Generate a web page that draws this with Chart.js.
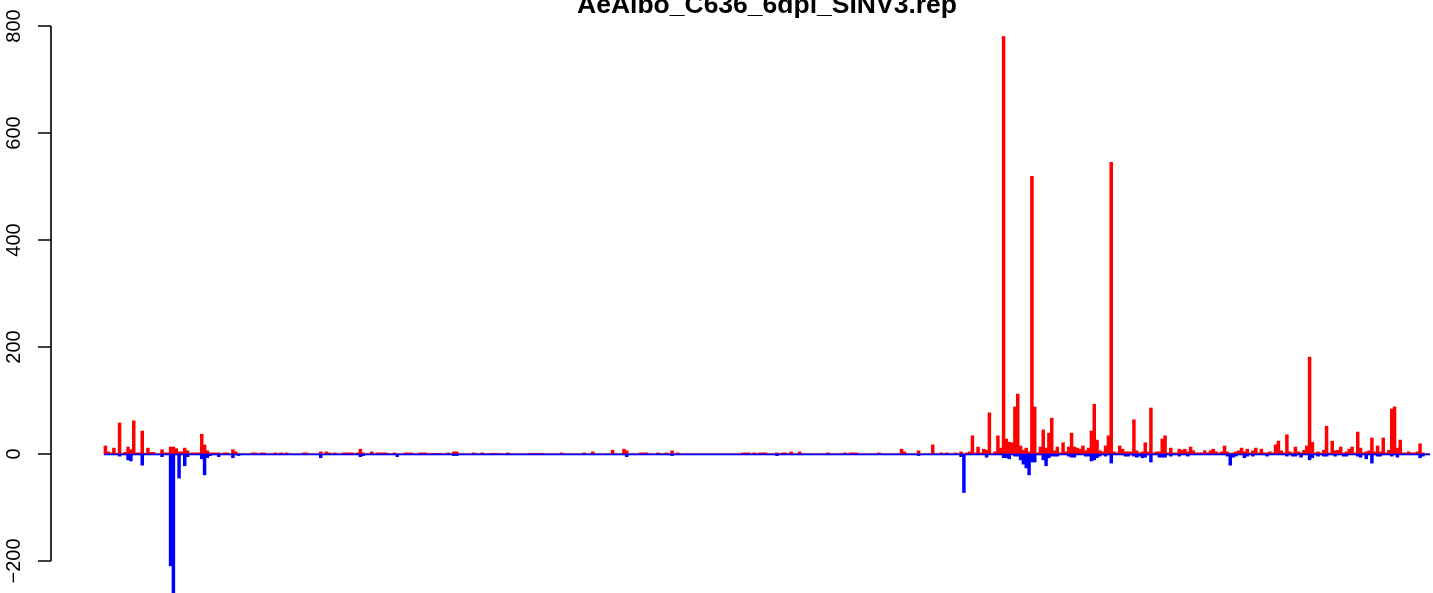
<!DOCTYPE html>
<html>
<head>
<meta charset="utf-8">
<script src="https://cdn.jsdelivr.net/npm/chart.js@4/dist/chart.umd.min.js"></script>
<style>
  html, body { margin: 0; padding: 0; background: #fff; overflow: hidden; }
  #wrap { position: absolute; left: 0; top: 0; width: 1433px; height: 640px; }
  canvas { display: block; }
</style>
</head>
<body>
<div id="wrap"><canvas id="repChart" width="1433" height="640"></canvas></div>
<script>
const chartTitle = "AeAlbo_C636_6dpi_SINV3.rep";

// y axis ticks (R style: axis only spans the tick range)
const yTicks = [-200, 0, 200, 400, 600, 800];
const yTickLabels = ["\u2212200", "0", "200", "400", "600", "800"];

// plus strand counts, one per bin (red)
const plusCounts = [
  15,4,2,11,1,58,1,3,13,8,62,2,2,43,1,11,3,3,0,0,
  8,2,2,13,13,10,4,4,11,6,1,2,2,2,37,17,6,2,2,2,
  2,0,2,2,0,8,4,1,0,0,0,0,2,2,0,2,2,0,0,0,
  2,0,2,0,2,0,0,0,0,0,2,2,0,0,0,0,4,0,4,2,
  0,2,0,0,2,2,2,2,0,2,9,2,0,0,4,0,2,2,2,2,
  0,0,2,0,0,0,2,2,2,0,0,2,2,2,0,1,1,1,1,0,
  0,2,0,4,4,0,0,0,0,0,2,0,0,2,0,0,1,1,1,1,
  0,0,2,0,0,0,0,0,0,0,1,1,1,1,1,0,0,0,0,0,
  0,2,0,0,0,0,0,0,0,2,0,0,4,0,0,0,0,0,0,7,
  0,0,0,9,6,0,0,0,0,2,2,2,0,0,0,2,0,0,2,0,
  6,0,2,0,0,0,0,0,0,0,0,0,0,0,0,0,0,0,0,0,
  0,0,0,0,0,2,2,2,0,2,0,2,2,2,0,0,0,2,0,2,
  2,0,4,0,0,4,0,0,0,0,0,0,0,0,0,2,0,0,0,0,
  0,2,0,2,2,2,0,0,0,0,0,0,0,2,0,0,0,0,0,0,
  0,9,4,0,0,0,0,6,0,0,0,0,17,0,0,2,0,2,0,0,
  2,0,4,0,2,4,34,2,13,2,9,7,77,0,4,34,11,780,28,22,
  21,88,112,15,7,11,4,519,88,2,13,45,11,39,67,6,13,2,21,4,
  13,39,13,11,9,15,6,11,43,93,26,6,4,15,34,545,4,2,15,9,
  4,4,4,64,6,2,4,21,4,86,2,4,4,28,34,2,11,2,2,9,
  7,9,4,13,6,2,2,2,6,2,6,9,4,2,4,15,4,1,2,4,
  6,11,4,9,2,6,11,2,9,2,2,4,2,17,24,6,2,36,4,2,
  13,4,2,7,15,181,22,2,4,2,7,52,2,24,6,7,13,2,4,9,
  13,2,41,11,2,4,6,30,4,15,4,30,2,7,84,88,11,26,2,2,
  4,2,2,4,19,2,0,0
];

// minus strand counts, one per bin (blue)
const minusCounts = [
  0,0,0,0,0,-4,0,0,-11,-13,0,0,0,-21,0,0,0,0,0,0,
  -5,0,0,-209,-265,0,-45,0,-22,-5,0,0,0,0,-9,-39,-7,-3,0,0,
  -5,0,0,0,0,-7,0,-3,0,0,0,0,0,0,0,0,0,0,0,0,
  0,0,0,0,0,0,0,0,0,0,0,0,0,0,0,0,-7,0,0,0,
  0,0,0,0,0,0,0,0,0,0,-5,-3,0,0,0,0,0,0,0,0,
  0,0,0,-5,0,0,0,0,0,0,0,0,0,0,0,0,0,0,0,0,
  0,0,0,-3,-3,0,0,0,0,0,0,0,0,0,0,0,0,0,0,0,
  0,0,0,0,0,0,0,0,0,0,0,0,0,0,0,0,0,0,0,0,
  0,0,0,0,0,0,0,0,0,0,0,0,0,0,0,0,0,0,0,0,
  0,0,0,0,-5,0,0,0,0,0,0,0,0,0,0,0,0,0,0,0,
  -3,0,0,0,0,0,0,0,0,0,0,0,0,0,0,0,0,0,0,0,
  0,0,0,0,0,0,0,0,0,0,0,0,0,0,0,0,0,-3,0,0,
  0,0,0,0,0,0,0,0,0,0,0,0,0,0,0,0,0,0,0,0,
  0,0,0,0,0,0,0,0,0,0,0,0,0,0,0,0,0,0,0,0,
  0,0,0,0,0,0,0,-3,0,0,0,0,0,0,0,0,0,0,0,0,
  0,0,-5,-72,0,0,0,0,0,0,0,-6,0,0,0,0,0,-7,-7,-9,
  0,-4,-4,-11,-19,-26,-39,-15,-15,0,0,-11,-22,-7,-4,-4,-4,0,0,0,
  -4,-6,-6,0,0,0,-4,-4,-13,-11,-7,-4,0,-4,0,-17,0,0,0,0,
  -4,-4,0,-4,-6,-4,-7,-6,0,-15,0,0,-6,-6,-6,0,-4,0,0,-4,
  0,0,-4,0,0,0,0,0,0,0,0,0,0,0,0,0,-4,-21,-6,-4,
  0,0,-7,-4,0,-4,0,0,0,0,-4,0,0,0,0,0,0,-4,0,-4,
  -4,0,-6,0,0,-11,-7,0,-4,0,-4,-4,0,0,-4,0,0,-4,-4,0,
  0,0,-4,-6,0,-9,0,-17,0,-4,-4,0,0,0,-4,0,-6,0,0,0,
  0,0,0,0,-7,-4,0,0
];

const binIndex = plusCounts.map((_, i) => i);

// zero line under the bars (gray) and the blue zero-height bars on top
const baselinePlugin = {
  id: "baseline",
  beforeDatasetsDraw(chart) {
    const { ctx, scales: { x, y } } = chart;
    const y0 = y.getPixelForValue(0);
    const x1 = x.getPixelForValue(-0.5);
    const x2 = x.getPixelForValue(binIndex.length - 0.5);
    ctx.save();
    ctx.fillStyle = "#BEBEBE";
    ctx.fillRect(x1, y0 - 1.2, x2 - x1, 1.2);
    ctx.restore();
  },
  afterDatasetsDraw(chart) {
    const { ctx, scales: { x, y } } = chart;
    const y0 = y.getPixelForValue(0);
    const x1 = x.getPixelForValue(-0.5);
    const x2 = x.getPixelForValue(binIndex.length - 0.5);
    ctx.save();
    ctx.fillStyle = "#0000FF";
    ctx.fillRect(x1, y0, x2 - x1, 1.3);
    ctx.restore();
  }
};

// R-like left axis with rotated labels, plus the (clipped) main title
const rAxisPlugin = {
  id: "rAxis",
  afterDraw(chart) {
    const { ctx, chartArea, scales: { x, y } } = chart;
    const ax = chartArea.left;
    ctx.save();
    ctx.strokeStyle = "#000";
    ctx.lineWidth = 1.6;
    ctx.beginPath();
    ctx.moveTo(ax, y.getPixelForValue(yTicks[0]));
    ctx.lineTo(ax, y.getPixelForValue(yTicks[yTicks.length - 1]));
    yTicks.forEach(v => {
      const py = y.getPixelForValue(v);
      ctx.moveTo(ax - 13, py);
      ctx.lineTo(ax, py);
    });
    ctx.stroke();

    ctx.fillStyle = "#000";
    ctx.font = '20px "Liberation Sans", Arial, Helvetica, sans-serif';
    ctx.textAlign = "center";
    ctx.textBaseline = "alphabetic";
    yTicks.forEach((v, k) => {
      ctx.save();
      ctx.translate(ax - 31, y.getPixelForValue(v));
      ctx.rotate(-Math.PI / 2);
      ctx.fillText(yTickLabels[k], 0, 0);
      ctx.restore();
    });

    ctx.font = 'bold 26.5px "Liberation Sans", Arial, Helvetica, sans-serif';
    ctx.fillText(chartTitle, x.getPixelForValue((binIndex.length - 1) / 2), 12.5);
    ctx.restore();
  }
};

new Chart(document.getElementById("repChart"), {
  type: "bar",
  data: {
    datasets: [
      {
        label: "minus",
        data: binIndex.map(i => ({ x: i, y: minusCounts[i] })),
        backgroundColor: "#0000FF",
        borderWidth: 0,
        grouped: false,
        barPercentage: 1,
        categoryPercentage: 1
      },
      {
        label: "plus",
        data: binIndex.map(i => ({ x: i, y: plusCounts[i] })),
        backgroundColor: "#FF0000",
        borderWidth: 0,
        grouped: false,
        barPercentage: 1,
        categoryPercentage: 1
      }
    ]
  },
  options: {
    responsive: false,
    animation: false,
    devicePixelRatio: 1,
    layout: { padding: { left: 51, right: 0, top: 10, bottom: 0 } },
    plugins: {
      legend: { display: false },
      tooltip: { enabled: false },
      title: { display: false }
    },
    scales: {
      x: {
        type: "linear",
        display: false,
        offset: false,
        min: -19.2,
        max: 468.56
      },
      y: {
        display: false,
        min: -347.7,
        max: 829.9
      }
    }
  },
  plugins: [baselinePlugin, rAxisPlugin]
});
</script>
</body>
</html>
